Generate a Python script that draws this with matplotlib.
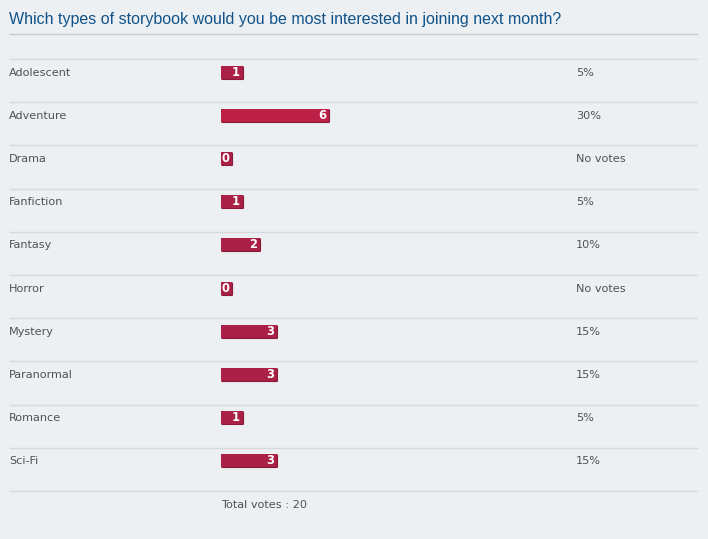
import numpy as np
import matplotlib.pyplot as plt

title = 'Which types of storybook would you be most interested in joining next month?'
options = ['Adolescent', 'Adventure', 'Drama', 'Fanfiction', 'Fantasy',
           'Horror', 'Mystery', 'Paranormal', 'Romance', 'Sci-Fi']
votes = [1, 6, 0, 1, 2, 0, 3, 3, 1, 3]
total_votes = 20

W, H = 708, 539
bg = '#ECF0F3'
text_col = '#4C5259'

fig = plt.figure(figsize=(W / 100, H / 100), dpi=100, facecolor=bg)
ax = fig.add_axes([0, 0, 1, 1])
ax.set_xlim(0, W)
ax.set_ylim(H, 0)
ax.axis('off')
ax.set_facecolor(bg)

# title + underline
ax.text(9, 19.5, title, fontsize=11.5, color='#105289', family='Liberation Sans',
        va='center', ha='left')
ax.hlines(34, 9, 698, color='#CCCCCC', lw=1)

n = len(options)
row_top = 59 + 43.2 * np.arange(n + 1)
ax.hlines(row_top, 9, 698, color='#D6DADD', lw=1)

vmax = max(votes)
for i, (name, v) in enumerate(zip(options, votes)):
    yc = row_top[i] + 13.5
    ax.text(9, yc, name, fontsize=8.1, color=text_col, va='center', ha='left')
    w = 4.8 + 3.44 * (100 * v / total_votes) if v > 0 else 11
    face = '#BC2047' if v == vmax else '#AA2046'
    ax.barh(yc - 0.5, w, left=221, height=13, color=face,
            edgecolor='none')
    # darker bottom/right edge
    ax.hlines(yc + 6, 221, 221 + w, color='#8A1A35', lw=0.8)
    ax.vlines(221 + w, yc - 7, yc + 6, color='#8A1A35', lw=0.8)
    ax.text(221 + w - 3, yc - 0.5, str(v), fontsize=8.3, color='white',
            fontweight='bold', va='center', ha='right')
    pct = f'{round(100 * v / total_votes)}%' if v > 0 else 'No votes'
    ax.text(576, yc, pct, fontsize=8.1, color=text_col, va='center', ha='left')

ax.text(221, row_top[-1] + 14, f'Total votes : {total_votes}', fontsize=8.1,
        color=text_col, va='center', ha='left')

fig.savefig('out.png', dpi=100, facecolor=bg)
